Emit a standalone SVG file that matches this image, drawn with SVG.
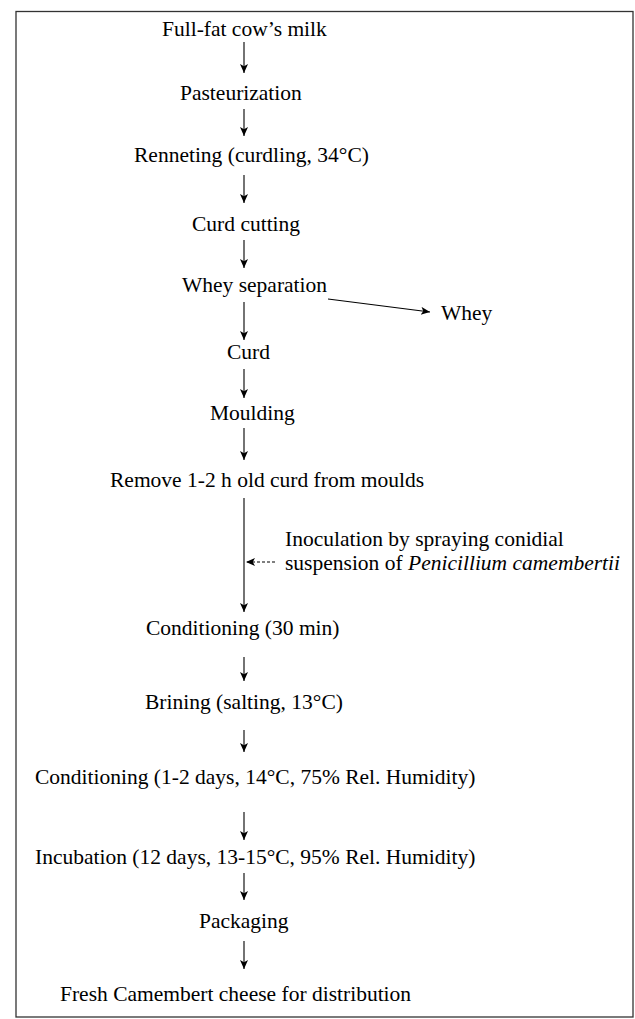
<svg xmlns="http://www.w3.org/2000/svg" width="635" height="1019" viewBox="0 0 635 1019">
<style>
  text { font-family: "Liberation Serif", "Times New Roman", serif; font-size: 21.5px; fill: #000; }
  .conn { stroke: #000; stroke-width: 1.1; fill: none; }
  .frame { stroke: #333; stroke-width: 1.3; fill: #fff; }
</style>
<defs>
  <marker id="ah" markerWidth="10" markerHeight="10" refX="9" refY="4.5" orient="auto" markerUnits="userSpaceOnUse">
    <path d="M0,0.5 L9,4.5 L0,8.5 L2.2,4.5 Z" fill="#000"/>
  </marker>
</defs>
<rect class="frame" x="16" y="11.5" width="617" height="1005.5"/>
<g id="connectors">
  <line class="conn" x1="244" y1="42" x2="244" y2="73" marker-end="url(#ah)"/>
  <line class="conn" x1="244" y1="109" x2="244" y2="136" marker-end="url(#ah)"/>
  <line class="conn" x1="244" y1="175" x2="244" y2="203" marker-end="url(#ah)"/>
  <line class="conn" x1="244" y1="240" x2="244" y2="268" marker-end="url(#ah)"/>
  <line class="conn" x1="244" y1="302" x2="244" y2="340" marker-end="url(#ah)"/>
  <line class="conn" x1="328" y1="299" x2="430" y2="312" marker-end="url(#ah)"/>
  <line class="conn" x1="244" y1="369" x2="244" y2="398" marker-end="url(#ah)"/>
  <line class="conn" x1="244" y1="428" x2="244" y2="460" marker-end="url(#ah)"/>
  <line class="conn" x1="244" y1="498" x2="244" y2="612" marker-end="url(#ah)"/>
  <line class="conn" x1="275" y1="562" x2="246" y2="562" stroke-dasharray="3,2" marker-end="url(#ah)"/>
  <line class="conn" x1="244" y1="657" x2="244" y2="681" marker-end="url(#ah)"/>
  <line class="conn" x1="244" y1="730" x2="244" y2="752" marker-end="url(#ah)"/>
  <line class="conn" x1="244" y1="812" x2="244" y2="840" marker-end="url(#ah)"/>
  <line class="conn" x1="244" y1="873" x2="244" y2="900" marker-end="url(#ah)"/>
  <line class="conn" x1="244" y1="941" x2="244" y2="969" marker-end="url(#ah)"/>
</g>
<g id="n-milk"><text x="162" y="36">Full-fat cow’s milk</text></g>
<g id="n-pasteurization"><text x="180" y="100">Pasteurization</text></g>
<g id="n-renneting"><text x="134" y="162">Renneting (curdling, 34°C)</text></g>
<g id="n-curdcutting"><text x="192" y="231">Curd cutting</text></g>
<g id="n-wheysep"><text x="182" y="292">Whey separation</text></g>
<g id="n-whey"><text x="441" y="320">Whey</text></g>
<g id="n-curd"><text x="227" y="359">Curd</text></g>
<g id="n-moulding"><text x="210" y="420">Moulding</text></g>
<g id="n-remove"><text x="110" y="487">Remove 1-2 h old curd from moulds</text></g>
<g id="n-inoculation"><text x="285" y="546">Inoculation by spraying conidial</text><text x="285" y="570">suspension of <tspan font-style="italic">Penicillium camembertii</tspan></text></g>
<g id="n-cond30"><text x="146" y="635">Conditioning (30 min)</text></g>
<g id="n-brining"><text x="145" y="709">Brining (salting, 13°C)</text></g>
<g id="n-cond12"><text x="35" y="784">Conditioning (1-2 days, 14°C, 75% Rel. Humidity)</text></g>
<g id="n-incubation"><text x="35" y="864">Incubation (12 days, 13-15°C, 95% Rel. Humidity)</text></g>
<g id="n-packaging"><text x="199" y="928">Packaging</text></g>
<g id="n-fresh"><text x="60" y="1001">Fresh Camembert cheese for distribution</text></g>
</svg>
